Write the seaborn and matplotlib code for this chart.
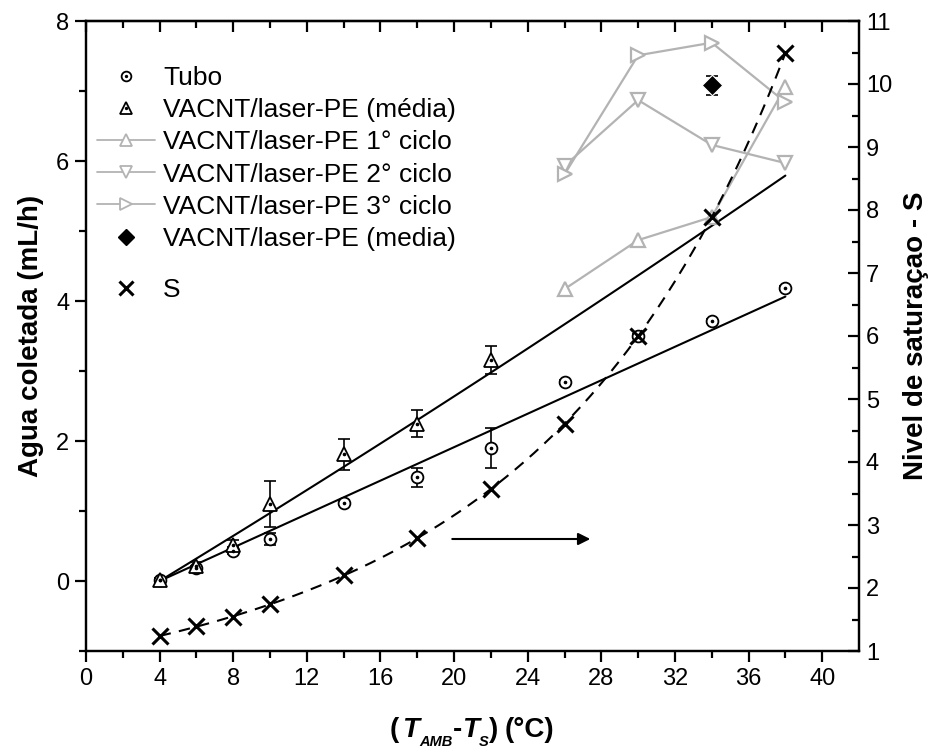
import numpy as np
import pandas as pd
import matplotlib
matplotlib.use("Agg")
import matplotlib.pyplot as plt
import seaborn as sns
from matplotlib.lines import Line2D
from matplotlib.legend_handler import HandlerTuple
from matplotlib.transforms import IdentityTransform

# ---------------- data ----------------
x_tubo = [4, 6, 8, 10, 14, 18, 22, 26, 30, 34, 38]
tubo = [0.01, 0.18, 0.43, 0.60, 1.12, 1.48, 1.90, 2.84, 3.50, 3.72, 4.19]
tubo_err = [0.03, 0.04, 0.05, 0.09, 0.04, 0.14, 0.28, 0.03, 0.03, 0.03, 0.03]

x_vac = [4, 6, 8, 10, 14, 18, 22]
vac = [0.01, 0.22, 0.51, 1.10, 1.81, 2.25, 3.16]
vac_err = [0.02, 0.05, 0.08, 0.33, 0.22, 0.19, 0.20]

x_cyc = [26, 30, 34, 38]
ciclo1 = [4.17, 4.87, 5.20, 7.06]
ciclo2 = [5.93, 6.87, 6.23, 5.97]
ciclo3 = [5.81, 7.51, 7.69, 6.84]

x_media = [34]
media = [7.08]
media_err = [0.13]

x_s = [4, 6, 8, 10, 14, 18, 22, 26, 30, 34, 38]
s_val = [1.24, 1.39, 1.54, 1.74, 2.21, 2.79, 3.57, 4.60, 6.00, 7.89, 10.49]

# fit curves y = a*(x-4) + b*(x-4)^2
fit_range = [4, 38]
fit_tubo = [0.1195, 0.0]
fit_vac = [0.160, 0.000304]

x_ticks = [0, 4, 8, 12, 16, 20, 24, 28, 32, 36, 40]
y_ticks = [0, 2, 4, 6, 8]
y2_ticks = [1, 2, 3, 4, 5, 6, 7, 8, 9, 10, 11]
arrow_x = [19.9, 27.4]
arrow_y = 0.6

legend_labels = ["Tubo", "VACNT/laser-PE (média)", "VACNT/laser-PE 1° ciclo",
                 "VACNT/laser-PE 2° ciclo", "VACNT/laser-PE 3° ciclo",
                 "VACNT/laser-PE (media)"]

GRAY = "#b3b3b3"

# ---------------- style ----------------
sns.set_theme(style="ticks")
plt.rcParams["font.family"] = ["Liberation Sans", "DejaVu Sans"]
plt.rcParams["axes.linewidth"] = 1.6
plt.rcParams["text.color"] = "black"
plt.rcParams["axes.labelcolor"] = "black"
plt.rcParams["xtick.color"] = "black"
plt.rcParams["ytick.color"] = "black"

fig = plt.figure(figsize=(9.41, 7.51), dpi=100)
ax = fig.add_axes([86 / 941, 1 - 651 / 751, (859 - 86) / 941, (651 - 21) / 751])
ax2 = ax.twinx()

# ---------------- left axis ----------------
xf = np.linspace(fit_range[0], fit_range[1], 100)
yf_t = fit_tubo[0] * (xf - 4) + fit_tubo[1] * (xf - 4) ** 2
yf_v = fit_vac[0] * (xf - 4) + fit_vac[1] * (xf - 4) ** 2
sns.lineplot(x=xf, y=yf_t, color="black", lw=1.5, ax=ax, sort=False)
sns.lineplot(x=xf, y=yf_v, color="black", lw=1.5, ax=ax, sort=False)

for yy in (ciclo1, ciclo2, ciclo3):
    sns.lineplot(x=x_cyc, y=yy, color=GRAY, lw=1.6, ax=ax, sort=False, zorder=2)
for yy, mk in ((ciclo1, "^"), (ciclo2, "v"), (ciclo3, ">")):
    ax.plot(x_cyc, yy, ls="none", marker=mk, ms=10, mfc="white", mec=GRAY, mew=1.6, zorder=3)

eb = dict(fmt="none", ecolor="black", elinewidth=1.2, capsize=4.3, capthick=1.2, zorder=4)
ax.errorbar(x_tubo, tubo, yerr=tubo_err, **eb)
ax.errorbar(x_vac, vac, yerr=vac_err, **eb)
ax.errorbar(x_media, media, yerr=media_err, **eb)

ax.plot(x_tubo, tubo, ls="none", marker="o", ms=8.5, mfc="white", mec="black", mew=1.3, zorder=5)
ax.plot(x_tubo, tubo, ls="none", marker="o", ms=1.6, color="black", zorder=6)
ax.plot(x_vac, vac, ls="none", marker="^", ms=10.5, mfc="white", mec="black", mew=1.3, zorder=5)
ax.plot(x_vac, vac, ls="none", marker="o", ms=1.6, color="black", zorder=6)
sns.scatterplot(x=x_media, y=media, marker="D", s=110, color="black", ax=ax, zorder=6)

ax.annotate("", xy=(arrow_x[1], arrow_y), xytext=(arrow_x[0], arrow_y),
            arrowprops=dict(arrowstyle="-|>", color="black", lw=1.5,
                            mutation_scale=18, shrinkA=0, shrinkB=0))

ax.set_xlim(0, 42)
ax.set_ylim(-1, 8)
ax.set_xticks(x_ticks)
ax.set_xticks(np.arange(2, 42, 4), minor=True)
ax.set_yticks(y_ticks)
ax.set_yticks([-1, 1, 3, 5, 7], minor=True)
ax.tick_params(axis="both", which="major", direction="out", length=8, width=1.6,
               labelsize=17, colors="black", pad=4)
ax.tick_params(axis="both", which="minor", direction="out", length=5, width=1.6)
ax.set_xlabel("")
ax.set_ylabel("Agua coletada (mL/h)", fontsize=20, fontweight="bold", labelpad=9,
              color="black")

top = ax.secondary_xaxis("top")
top.set_xticks(x_ticks)
top.set_xticks(np.arange(2, 42, 4), minor=True)
top.tick_params(which="major", direction="in", length=8, width=1.6, labeltop=False)
top.tick_params(which="minor", direction="in", length=5, width=1.6)
top.set_xticklabels([])

# ---------------- right axis ----------------
xs_dense = np.linspace(x_s[0], x_s[-1], 200)
coef = np.polyfit(x_s, np.log(s_val), 3)
sns.lineplot(x=xs_dense, y=np.exp(np.polyval(coef, xs_dense)), color="black", lw=1.5,
             ax=ax2, sort=False, linestyle=(0, (5.5, 4)))
ax2.plot(x_s, s_val, ls="none", marker="x", ms=11, mew=2.2, color="black", zorder=6)
ax2.set_ylim(1, 11)
ax2.set_yticks(y2_ticks)
ax2.set_yticks(np.arange(1.5, 11, 1), minor=True)
ax2.tick_params(axis="y", which="major", direction="in", length=8, width=1.6,
                labelsize=17, colors="black", pad=5)
ax2.tick_params(axis="y", which="minor", direction="in", length=5, width=1.6)
ax2.set_ylabel("Nivel de saturaçao - S", fontsize=20, fontweight="bold", labelpad=8,
               color="black")

for a in (ax, ax2):
    for sp in a.spines.values():
        sp.set_color("black")
        sp.set_linewidth(1.6)

# ---------------- legends ----------------
h_tubo = (Line2D([], [], ls="none", marker="o", ms=7, mfc="white", mec="black", mew=1.3),
          Line2D([], [], ls="none", marker="o", ms=1.4, color="black"))
h_vac = (Line2D([], [], ls="none", marker="^", ms=8.5, mfc="white", mec="black", mew=1.3),
         Line2D([], [], ls="none", marker="o", ms=1.4, color="black"))
h_c1 = Line2D([], [], color=GRAY, lw=1.3, marker="^", ms=8.5, mfc="white", mec=GRAY, mew=1.3)
h_c2 = Line2D([], [], color=GRAY, lw=1.3, marker="v", ms=8.5, mfc="white", mec=GRAY, mew=1.3)
h_c3 = Line2D([], [], color=GRAY, lw=1.3, marker=">", ms=8.5, mfc="white", mec=GRAY, mew=1.3)
h_med = Line2D([], [], ls="none", marker="D", ms=8, color="black")
leg1 = ax2.legend([h_tubo, h_vac, h_c1, h_c2, h_c3, h_med], legend_labels,
                  handler_map={tuple: HandlerTuple(ndivide=1)},
                  loc="upper left", bbox_to_anchor=(97 / 941, 1 - 66 / 751),
                  bbox_transform=fig.transFigure, frameon=False, fontsize=19,
                  handlelength=2.2, handletextpad=0.3, labelspacing=0.31,
                  borderaxespad=0, borderpad=0, labelcolor="black")
ax2.add_artist(leg1)
h_s = Line2D([], [], ls="none", marker="x", ms=10, mew=2.2, color="black")
ax2.legend([h_s], ["S"], loc="upper left", bbox_to_anchor=(97 / 941, 1 - 278 / 751),
           bbox_transform=fig.transFigure, frameon=False, fontsize=19,
           handlelength=2.2, handletextpad=0.3, borderaxespad=0, borderpad=0,
           labelcolor="black")

# ---------------- x label built from text pieces ----------------
pieces = [  # text, size, style, baseline shift (px), gap before (px)
    ("(", 20, "normal", 0, 0),
    ("T", 20, "italic", 0, 4),
    ("AMB", 10.5, "italic", -9, 0),
    ("-", 20, "normal", 0, 0),
    ("T", 20, "italic", 0, 0),
    ("S", 10.5, "italic", -9, 0),
    (")", 20, "normal", 0, 0),
    ("(°C)", 20, "normal", 0, 7),
]
fig.canvas.draw()
rend = fig.canvas.get_renderer()
objs = []
for s, size, style, dy, gap in pieces:
    t = fig.text(0, 0, s, fontsize=size, fontweight="bold", fontstyle=style,
                 color="black", transform=IdentityTransform(), ha="left", va="baseline")
    objs.append((t, t.get_window_extent(rend).width, dy, gap))
total = sum(w + g for _, w, _, g in objs)
xcur = 472 - total / 2
base = 751 - 737
for t, w, dy, gap in objs:
    xcur += gap
    t.set_position((xcur, base + dy))
    xcur += w

fig.savefig("out.png", dpi=100)
